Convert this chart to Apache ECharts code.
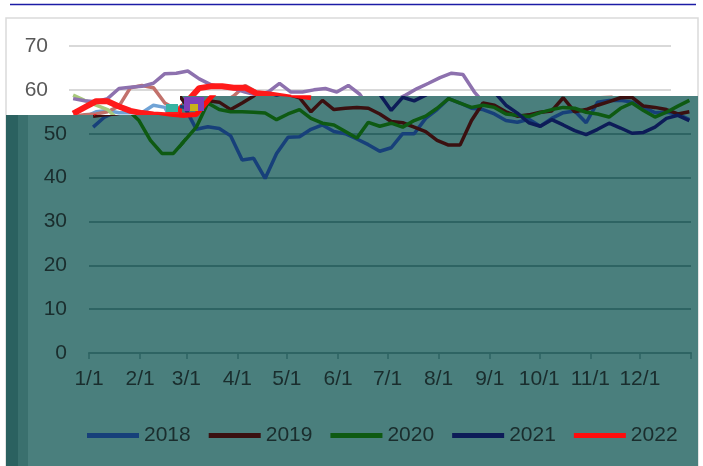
<!DOCTYPE html>
<html><head><meta charset="utf-8">
<script src="https://cdn.jsdelivr.net/npm/echarts@6/dist/echarts.min.js"></script>
<style>html,body{margin:0;padding:0;background:#fff}#c{width:703px;height:466px}</style>
</head><body><div id="c"></div>
<script>
// ---------------- data ----------------
const years = ['2018', '2019', '2020', '2021', '2022'];
const monthTickLabels = ['1/1','2/1','3/1','4/1','5/1','6/1','7/1','8/1','9/1','10/1','11/1','12/1'];
const monthStartDays = [0, 31, 59, 90, 120, 151, 181, 212, 243, 273, 304, 334, 365];
const yTicks = [0, 10, 20, 30, 40, 50, 60, 70];

const v2018 = [51.5,53.8,55.0,55.3,54.8,54.8,54.8,56.5,56.0,51.0,51.6,51.2,49.5,44.0,44.4,39.8,45.5,49.2,49.3,51.0,52.0,50.5,50.0,48.8,47.5,46.0,46.8,50.0,50.0,53.5,55.5,58.0,57.0,55.8,55.5,54.5,53.0,52.6,53.3,51.7,53.5,54.8,55.2,52.5,57.2,57.6,57.6,57.2,56.0,54.8,54.9,54.5,53.2];
const v2019 = [54.0,54.3,54.5,55.0,56.3,60.5,61.0,60.5,57.0,55.5,57.5,57.2,55.5,57.0,58.6,61.0,59.5,59.0,58.2,55.0,57.6,55.5,55.8,56.0,55.8,54.5,52.8,52.5,51.5,50.5,48.5,47.4,47.4,53.0,57.0,56.5,55.0,54.0,54.3,54.9,55.2,58.2,55.0,55.5,56.5,57.3,58.2,58.3,56.3,56.0,55.5,54.5,55.0];
const v2020 = [58.8,57.6,56.5,55.5,53.0,48.5,45.5,45.5,48.5,51.5,57.0,55.5,55.0,55.0,54.9,54.7,53.2,54.5,55.5,53.5,52.4,52.0,50.5,49.0,52.6,51.7,52.4,51.5,53.0,54.0,55.8,58.0,57.0,56.0,56.5,56.0,54.5,54.2,53.9,54.8,55.5,56.0,55.8,54.9,54.5,53.8,55.8,57.0,55.3,53.8,54.9,56.3,57.6];
const v2021 = [58.0,57.5,57.3,58.0,60.3,60.6,60.8,61.5,63.7,63.8,64.3,62.5,61.2,60.6,60.3,59.5,58.8,59.5,61.5,59.5,59.5,60.0,60.3,59.5,61.0,59.0,55.3,58.3,57.5,58.8,60.3,61.5,62.8,63.8,63.5,59.5,56.5,54.7,52.5,51.7,53.2,52.0,50.7,49.8,51.0,52.4,51.3,50.1,50.3,51.5,53.5,54.2,53.0];
const v2022 = [54.6,56.0,57.4,57.4,56.2,55.2,54.7,54.4,54.2,54.4,57.5,60.4,60.8,60.8,60.5,60.5,59.2,59.0,58.6,58.2];

const seriesValues = [v2018, v2019, v2020, v2021, v2022];
const lightColors = ['#6fa3d6', '#c2716b', '#a9c97c', '#8d71ae', '#ff1a1a'];
const darkColors  = ['#17407a', '#3a1010', '#0e5a12', '#0d1c58', '#ff0d0d'];
const lineWidths  = [3.5, 3.5, 3.5, 3.5, 5];

// ---------------- layout ----------------
const FONT = 'Liberation Sans, Arial, sans-serif';
const Y0 = 353, Y70 = 46;                 // pixel rows of 0 and 70
const pxPerUnit = (Y0 - Y70) / 70;
const TX0 = 89, TX1 = 691;                // teal chart x of day 0 and day 365
const pxPerDay = (TX1 - TX0) / 365;
const SHIFT = 20;                         // white layer is shifted left
const SPLITX = 182;                       // where the teal top steps
const TOP_L = 115, TOP_R = 96;            // teal top left / right
const LW = 3.5;

const dayAt = i => 2.5 + i * 361.5 / 52;  // weekly sample positions
const toPairs = arr => arr.map((v, i) => [dayAt(i), v]);

const splitDay = (SPLITX - TX0) / pxPerDay;
const yMaxAt = top => (Y0 - top) / pxPerUnit;

const teal = '#4a7f7d';
const tealGrid = '#2e6463';
const tealText = '#1a2d2d';

const grids = [
  { left: TX0 - SHIFT, top: Y70, width: TX1 - TX0, height: Y0 - Y70 },
  { left: TX0, top: TOP_L + LW / 2, width: SPLITX - TX0, height: Y0 - TOP_L - LW / 2 },
  { left: SPLITX, top: TOP_R + LW / 2, width: TX1 - SPLITX, height: Y0 - TOP_R - LW / 2 },
  { left: TX0, top: TOP_R, width: TX1 - TX0, height: Y0 - TOP_R }
];

const hiddenAxis = (g, min, max) => ({ gridIndex: g, type: 'value', min, max, show: false });

const xAxes = [
  hiddenAxis(0, 0, 365),
  hiddenAxis(1, 0, splitDay),
  hiddenAxis(2, splitDay, 365),
  {
    gridIndex: 3, type: 'value', min: 0, max: 365, z: 6,
    axisLine: { show: true, lineStyle: { color: tealGrid, width: 2 } },
    axisTick: { show: true, customValues: monthStartDays, length: 6, lineStyle: { color: tealGrid, width: 1.5 } },
    axisLabel: {
      customValues: monthStartDays.slice(0, 12),
      formatter: v => monthTickLabels[monthStartDays.indexOf(Math.round(v))] || '',
      color: tealText, fontSize: 21, fontFamily: FONT, margin: 16
    },
    splitLine: { show: false }
  }
];

const yAxes = [
  {
    gridIndex: 0, type: 'value', min: 0, max: 70, interval: 10,
    axisLine: { show: false }, axisTick: { show: false },
    axisLabel: { color: '#595959', fontSize: 21, fontFamily: FONT, margin: 21 },
    splitLine: { lineStyle: { color: '#d9d9d9', width: 2 } }
  },
  hiddenAxis(1, 0, yMaxAt(TOP_L + LW / 2)),
  hiddenAxis(2, 0, yMaxAt(TOP_R + LW / 2)),
  {
    gridIndex: 3, type: 'value', min: 0, max: yMaxAt(TOP_R), interval: 10, z: 6,
    axisLine: { show: false }, axisTick: { show: false },
    axisLabel: {
      color: tealText, fontSize: 21, fontFamily: FONT, margin: 22,
      formatter: v => (yTicks.indexOf(Math.round(v * 1000) / 1000) >= 0 ? String(v) : '')
    },
    splitLine: { showMaxLine: false, lineStyle: { color: tealGrid, width: 2 } }
  }
];

const series = [];
years.forEach((y, k) => {
  const data = toPairs(seriesValues[k]);
  series.push({ name: 'w' + y, type: 'line', xAxisIndex: 0, yAxisIndex: 0, data, showSymbol: false,
    color: lightColors[k], lineStyle: { width: lineWidths[k] + (k === 4 ? 1 : 0), color: lightColors[k] }, z: 2 + k * 0.01, silent: true });
});
years.forEach((y, k) => {
  const data = toPairs(seriesValues[k]);
  [1, 2].forEach(g => {
    series.push({ name: y, type: 'line', xAxisIndex: g, yAxisIndex: g, data, showSymbol: false,
      color: darkColors[k], lineStyle: { width: lineWidths[k], color: darkColors[k] }, z: 8 + k * 0.01, silent: true });
  });
});

const option = {
  animation: false,
  backgroundColor: '#ffffff',
  grid: grids,
  xAxis: xAxes,
  yAxis: yAxes,
  series,
  legend: {
    data: years, left: 82, top: 420, z: 10,
    icon: 'rect', itemWidth: 52, itemHeight: 5, itemGap: 18,
    textStyle: { color: tealText, fontSize: 21, fontFamily: FONT },
    selectedMode: false
  },
  graphic: [
    { type: 'line', shape: { x1: 10, y1: 4.5, x2: 696, y2: 4.5 }, style: { stroke: '#1c1ca6', lineWidth: 1.5 }, z: 1 },
    { type: 'rect', shape: { x: 6, y: 18, width: 692, height: 460 }, style: { fill: 'none', stroke: '#dadada', lineWidth: 1.5 }, z: 1 },
    { type: 'rect', shape: { x: 6, y: TOP_L, width: SPLITX - 6, height: 466 - TOP_L }, style: { fill: teal }, z: 5 },
    { type: 'rect', shape: { x: SPLITX, y: TOP_R, width: 698 - SPLITX, height: 466 - TOP_R }, style: { fill: teal }, z: 5 },
    { type: 'rect', shape: { x: 6, y: TOP_L, width: 12, height: 466 - TOP_L }, style: { fill: '#2b6160' }, z: 5.1 },
    { type: 'rect', shape: { x: 18, y: TOP_L, width: 10, height: 466 - TOP_L }, style: { fill: '#3a706e' }, z: 5.1 },
    // small colour-noise patch seen in the reference
    { type: 'rect', shape: { x: 184, y: 97, width: 20, height: 14 }, style: { fill: '#7d3fb8' }, z: 9 },
    { type: 'rect', shape: { x: 190, y: 104, width: 8, height: 7 }, style: { fill: '#c9b21a' }, z: 9.1 },
    { type: 'rect', shape: { x: 166, y: 104, width: 12, height: 8 }, style: { fill: '#36b4a2' }, z: 9 }
  ]
};

const chart = echarts.init(document.getElementById('c'), null, { renderer: 'canvas' });
chart.setOption(option);
</script>
</body></html>
